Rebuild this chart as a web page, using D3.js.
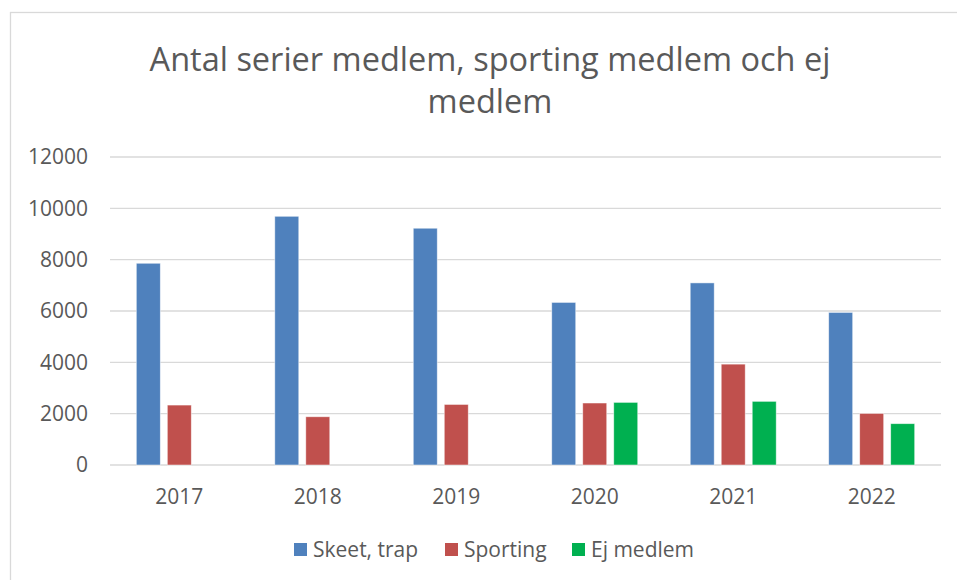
<!DOCTYPE html>
<html>
<head>
<meta charset="utf-8">
<script src="https://cdn.jsdelivr.net/npm/d3@7"></script>
<style>
  html, body { margin: 0; padding: 0; background: #fff; }
  svg { display: block; font-family: "Open Sans", "Noto Sans", sans-serif; }
</style>
</head>
<body>
<svg id="chart" width="957" height="580"></svg>
<script>
// data
const years = ["2017", "2018", "2019", "2020", "2021", "2022"]
const seriesNames = ["Skeet, trap", "Sporting", "Ej medlem"]
const skeetTrap = [7860, 9690, 9225, 6335, 7095, 5945]
const sporting = [2335, 1880, 2360, 2415, 3930, 2010]
const ejMedlem = [null, null, null, 2440, 2480, 1610]
const yTicks = [0, 2000, 4000, 6000, 8000, 10000, 12000]
const colors = ["#4F81BD", "#C0504D", "#00B050"]

const titleLines = ["Antal serier medlem, sporting medlem och ej", "medlem"]

const svg = d3.select("#chart")
const textColor = "#595959"
const gridColor = "#d9d9d9"

// chart frame (only top and left edges are inside the picture)
svg.append("rect")
    .attr("x", 10.5).attr("y", 12.5)
    .attr("width", 1000).attr("height", 1000)
    .attr("fill", "#fff")
    .attr("stroke", gridColor)
    .attr("stroke-width", 1.3)

// plot area
const plot = { left: 110, right: 941, top: 157, bottom: 465 }

const x0 = d3.scaleBand()
    .domain(years)
    .range([plot.left, plot.right])
    .paddingInner(0.379)
    .paddingOuter(0.19)

const x1 = d3.scaleBand()
    .domain(seriesNames)
    .range([0, x0.bandwidth()])
    .paddingInner(0.226)

const y = d3.scaleLinear()
    .domain([0, 12000])
    .range([plot.bottom, plot.top])

// gridlines
svg.append("g")
    .selectAll("line")
    .data(yTicks)
    .join("line")
    .attr("x1", plot.left).attr("x2", plot.right)
    .attr("y1", d => y(d)).attr("y2", d => y(d))
    .attr("stroke", gridColor)
    .attr("stroke-width", 1.4)

// y axis labels
const yAxis = d3.axisLeft(y).tickValues(yTicks).tickSize(0).tickPadding(0).tickFormat(d3.format("d"))
svg.append("g")
    .attr("transform", `translate(${plot.left - 22},0)`)
    .call(yAxis)
    .call(g => g.select(".domain").remove())
    .selectAll("text")
    .attr("fill", textColor)
    .attr("font-size", 21)
    .attr("font-family", "Open Sans, sans-serif")

// x axis labels
const xAxis = d3.axisBottom(x0).tickSize(0).tickPadding(0)
svg.append("g")
    .attr("transform", `translate(0,${plot.bottom + 24})`)
    .call(xAxis)
    .call(g => g.select(".domain").remove())
    .selectAll("text")
    .attr("fill", textColor)
    .attr("font-size", 21)
    .attr("font-family", "Open Sans, sans-serif")

// bars
const allSeries = [skeetTrap, sporting, ejMedlem]
const barData = []
years.forEach((yr, i) => {
    seriesNames.forEach((s, j) => {
        const v = allSeries[j][i]
        if (v != null) barData.push({ year: yr, series: s, value: v, color: colors[j] })
    })
})

svg.append("g")
    .selectAll("rect")
    .data(barData)
    .join("rect")
    .attr("x", d => x0(d.year) + x1(d.series))
    .attr("width", x1.bandwidth())
    .attr("y", d => y(d.value))
    .attr("height", d => y(0) - y(d.value))
    .attr("fill", d => d.color)
    .attr("stroke", "#fff")
    .attr("stroke-opacity", 0.6)
    .attr("stroke-width", 0.8)

// title
svg.append("text")
    .attr("x", 490)
    .attr("y", 71)
    .attr("text-anchor", "middle")
    .attr("fill", textColor)
    .attr("font-size", 32.5)
    .selectAll("tspan")
    .data(titleLines)
    .join("tspan")
    .attr("x", 490)
    .attr("dy", (d, i) => i === 0 ? 0 : 42)
    .text(d => d)

// legend
const legendX = [294, 445, 572]
const legend = svg.append("g")
    .selectAll("g")
    .data(seriesNames)
    .join("g")
    .attr("transform", (d, i) => `translate(${legendX[i]},543)`)

legend.append("rect")
    .attr("width", 13).attr("height", 13)
    .attr("fill", (d, i) => colors[i])

legend.append("text")
    .attr("x", 19)
    .attr("y", 14)
    .attr("fill", textColor)
    .attr("font-size", 21)
    .text(d => d)
</script>
</body>
</html>
